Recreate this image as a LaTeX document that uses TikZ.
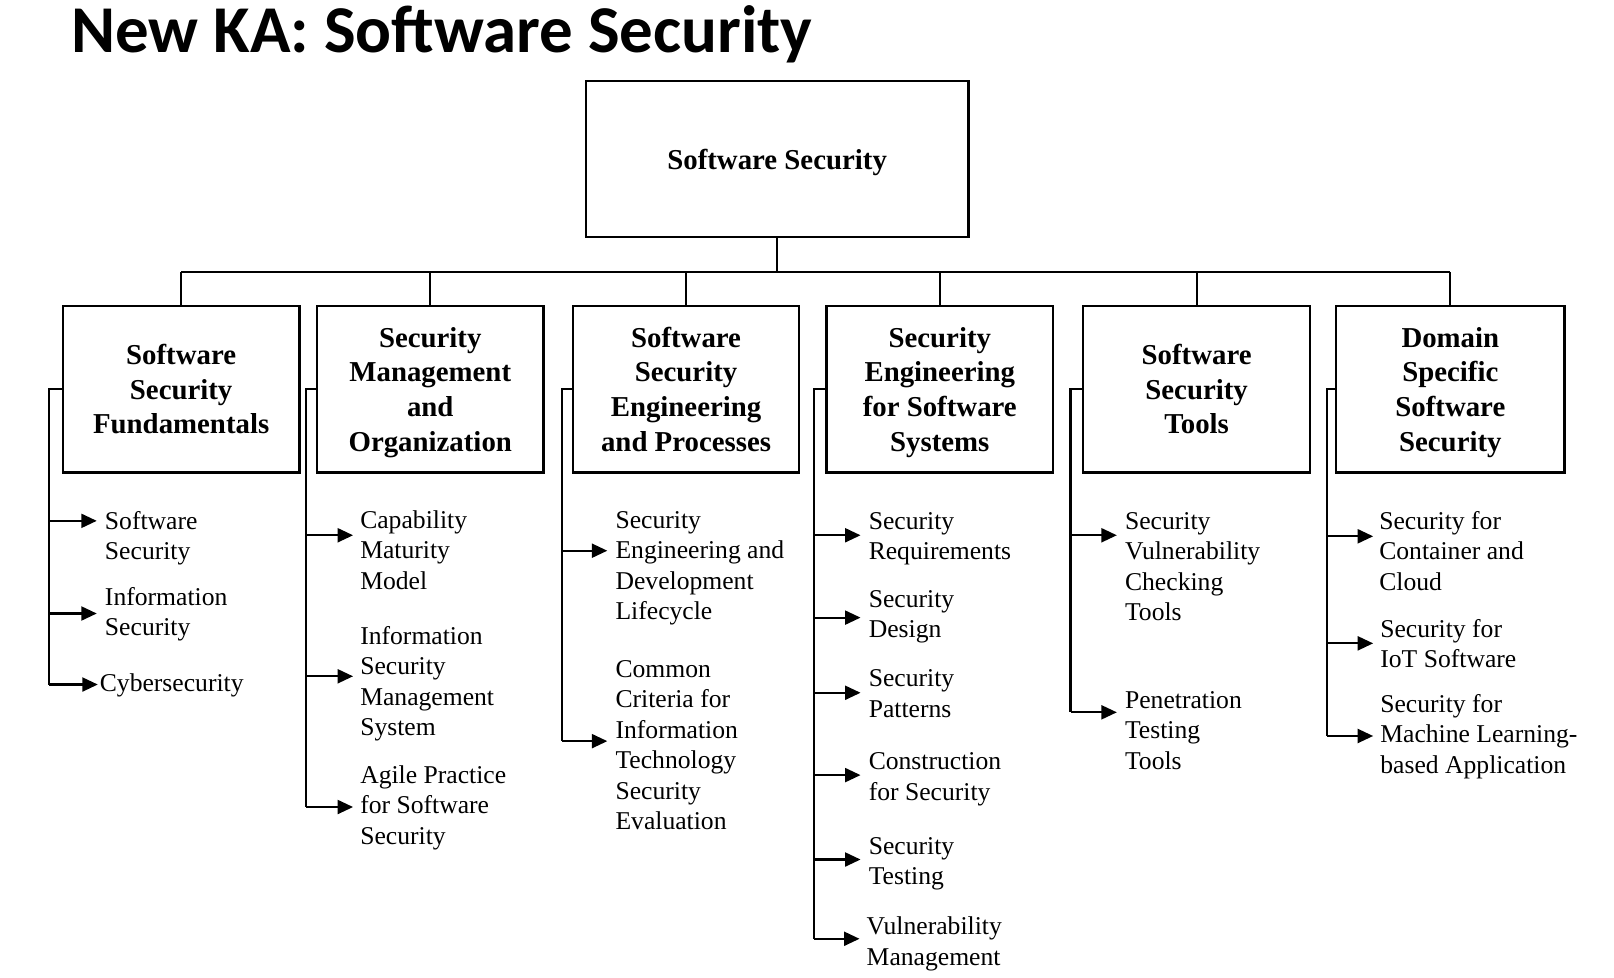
\documentclass[tikz,border=0pt]{standalone}
\usepackage{fontspec}
\setmainfont{Liberation Serif}
\newfontfamily\titlefont{Carlito}
\usetikzlibrary{arrows.meta}
\begin{document}
\begin{tikzpicture}[x=0.5pt,y=-0.5pt,
  line width=1pt,
  topbox/.style={draw,line width=1.1pt,minimum width=186pt,minimum height=75.5pt,align=center,inner sep=0pt,text depth=0pt,font=\bfseries\fontsize{14}{16.85}\selectfont},
  kabox/.style={draw,line width=1.1pt,minimum height=81pt,align=center,inner sep=0pt,text depth=0pt,font=\bfseries\fontsize{14}{16.85}\selectfont},
  leaf/.style={anchor=base west,inner sep=0pt,align=left,font=\fontsize{12.45}{14.8}\selectfont},
  arr/.style={-{Triangle[length=7.5pt,width=6.8pt]},line width=1pt}]
\useasboundingbox (0,0) rectangle (1568,950);
% title
\node[anchor=base west,inner sep=0pt,font=\titlefont\bfseries\fontsize{32.5}{39}\selectfont] (title) at (68,51) {New KA: Software Security};
% top box
\node[topbox] (top) at (755,154.5) {Software Security};
% KA boxes
\node[kabox,minimum width=115pt] (b1) at (176,378) {Software\\Security\\Fundamentals};
\node[kabox,minimum width=110pt] (b2) at (418,378) {Security\\Management\\and\\Organization};
\node[kabox,minimum width=109.5pt] (b3) at (666.5,378) {Software\\Security\\Engineering\\and Processes};
\node[kabox,minimum width=110pt] (b4) at (913,378) {Security\\Engineering\\for Software\\Systems};
\node[kabox,minimum width=110.5pt] (b5) at (1162.5,378) {Software\\Security\\Tools};
\node[kabox,minimum width=111pt] (b6) at (1409,378) {Domain\\Specific\\Software\\Security};
% tree
\coordinate (bus) at (755,264);
\draw (top.south) -- (bus);
\draw (bus -| b1.north) -- (bus -| b6.north);
\foreach \b in {b1,b2,b3,b4,b5,b6} \draw (bus -| \b.north) -- (\b.north);
% side lines
\coordinate (s1) at (48,665);
\coordinate (s2) at (297,784);
\coordinate (s3) at (546,720);
\coordinate (s4) at (791,912);
\coordinate (s5) at (1040,692);
\coordinate (s6) at (1289,715);
\foreach \b/\s in {b1/s1,b2/s2,b3/s3,b4/s4,b5/s5,b6/s6} \draw (\b.west) -| (\s);
% leaves B1 (positions give the baseline of the last line)
\node[leaf] (l11) at (101,543.6) {Software\\Security};
\node[leaf] (l12) at (101,617.6) {Information\\Security};
\node[leaf] (l13) at (96,672) {Cybersecurity};
\coordinate (t11) at (94,506);
\coordinate (t12) at (94,596);
\coordinate (t13) at (95,665);
% leaves B2
\node[leaf] (l21) at (349,572.2) {Capability\\Maturity\\Model};
\node[leaf] (l22) at (349,714.8) {Information\\Security\\Management\\System};
\node[leaf] (l23) at (349,820.2) {Agile Practice\\for Software\\Security};
\coordinate (t21) at (343,520);
\coordinate (t22) at (343,657);
\coordinate (t23) at (343,784);
% leaves B3
\node[leaf] (l31) at (597,601.8) {Security\\Engineering and\\Development\\Lifecycle};
\node[leaf] (l32) at (597,806) {Common\\Criteria for\\Information\\Technology\\Security\\Evaluation};
\coordinate (t31) at (590,535);
\coordinate (t32) at (590,720);
% leaves B4
\node[leaf] (l41) at (843,543.6) {Security\\Requirements};
\node[leaf] (l42) at (843,619.6) {Security\\Design};
\node[leaf] (l43) at (843,696.6) {Security\\Patterns};
\node[leaf] (l44) at (843,777.6) {Construction\\for Security};
\node[leaf] (l45) at (843,859.6) {Security\\Testing};
\node[leaf] (l46) at (841,937.6) {Vulnerability\\Management};
\coordinate (t41) at (836,520);
\coordinate (t42) at (836,600);
\coordinate (t43) at (836,673);
\coordinate (t44) at (836,753);
\coordinate (t45) at (836,835);
\coordinate (t46) at (835,912);
% leaves B5
\node[leaf] (l51) at (1092,602.8) {Security\\Vulnerability\\Checking\\Tools};
\node[leaf] (l52) at (1092,747.2) {Penetration\\Testing\\Tools};
\coordinate (t51) at (1085,520);
\coordinate (t52) at (1085,692);
% leaves B6
\node[leaf] (l61) at (1339,573.2) {Security for\\Container and\\Cloud};
\node[leaf] (l62) at (1340,648.6) {Security for\\IoT Software};
\node[leaf] (l63) at (1340,751.2) {Security for\\Machine Learning-\\based Application};
\coordinate (t61) at (1334,521);
\coordinate (t62) at (1334,625);
\coordinate (t63) at (1334,715);
% arrows
\foreach \s/\t in {s1/t11,s1/t12,s1/t13,s2/t21,s2/t22,s2/t23,s3/t31,s3/t32,
  s4/t41,s4/t42,s4/t43,s4/t44,s4/t45,s4/t46,s5/t51,s5/t52,s6/t61,s6/t62,s6/t63}
  \draw[arr] (\t -| \s) -- (\t);
\end{tikzpicture}
\end{document}
